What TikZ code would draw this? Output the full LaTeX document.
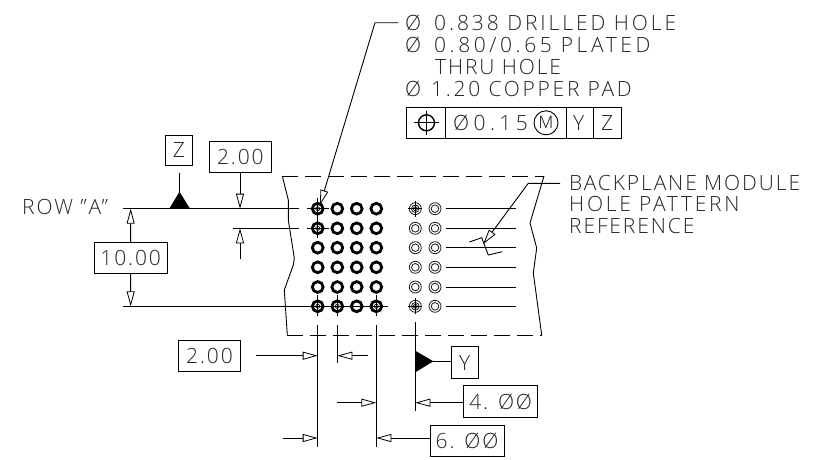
\documentclass[tikz,border=0pt]{standalone}
\usepackage{fontspec}
\setmainfont[UprightFont=* Light,LetterSpace=9]{Open Sans}
\usetikzlibrary{arrows.meta}
\tikzset{
 x=1pt,y=-1pt,
 cad/.style={font=\fontsize{21}{21}\selectfont,inner sep=0pt,anchor=west,text=black!85},
 boxed/.style={draw,line width=.9pt,inner sep=0pt,font=\fontsize{21}{21}\selectfont,text=black!85},
 ln/.style={line width=.9pt},
 dim/.style={line width=.9pt,-{Triangle[open,length=15pt,width=8pt,line width=.8pt]}},
 fat/.style={draw=black,line width=2.8pt},
 thin hole/.style={draw=black!85,line width=.85pt},
 cl/.style={line width=.7pt},
}
\newcommand{\bx}[6]{\node[boxed,minimum width=#3pt-#1pt,minimum height=#4pt-#2pt] (#5) at ({(#1+#3)/2},{(#2+#4)/2}) {#6};}
\newcommand{\lsp}[1]{\addfontfeature{LetterSpace=#1}}
\begin{document}
\begin{tikzpicture}
\useasboundingbox (0,0) rectangle (825,459);
% module outline
\draw[ln,dash pattern=on 16pt off 7pt] (282.3,176) -- (544,176);
\draw[ln,dash pattern=on 16pt off 7pt] (287.3,335) -- (541.7,335);
\draw[ln] (282.3,176) -- (288.3,200) -- (288.3,220) -- (294.3,258) -- (293.3,265) -- (284.3,290) -- (287.3,335);
\draw[ln] (544,176) -- (530,223) -- (536.7,248) -- (533.3,273) -- (541.7,335);
% holes
\foreach \x in {317.7,337.3,356.7,376.3}\foreach \y in {208.7,228.3,247.7,267.3,287,306.3}{
 \draw[fat] (\x,\y) circle (5.4pt);
}
\foreach \x in {415.3,435}\foreach \y in {208.7,228.3,247.7,267.3,287,306.3}{
 \draw[thin hole] (\x,\y) circle (6pt);
 \draw[thin hole] (\x,\y) circle (3.8pt);
}
% centre marks
\foreach \x/\y in {317.7/208.7,317.7/228.3,317.7/306.3,337.3/306.3,376.3/306.3}{
 \draw[cl] (\x-11,\y) -- (\x+11,\y);
 \draw[cl] (\x,\y-11) -- (\x,\y+10);
 \draw[cl] (\x,\y) circle (2pt);
}
\foreach \x/\y in {415.3/208.7,415.3/306.3}{
 \draw[cl] (\x-7,\y) -- (\x+7,\y);
 \draw[cl] (\x,\y-8) -- (\x,\y+8);
 \draw[cl] (\x,\y) circle (2pt);
}
% rows
\foreach \y [count=\i] in {208.7,228.3,247.7,267.3,287,306.3}{\coordinate (rs\i) at (446.3,\y); \coordinate (re\i) at (516.3,\y); \draw[ln] (rs\i) -- (re\i);}
\coordinate (a1) at (123,208.7); \coordinate (a2) at (299,208.7);
\coordinate (b1) at (232.7,228.3); \coordinate (b2) at (299,228.3);
\coordinate (c1) at (123,306.3); \coordinate (c2) at (299,306.3); \coordinate (c3) at (387.7,306.3);
\draw[ln] (a1)--(a2); \draw[ln] (b1)--(b2); \draw[ln] (c1)--(c2); \draw[cl] (c2)--(c3);
% notes
\node[cad] (n1a) at (405,22.7) {Ø}; \node[cad] (n1) at (434,22.7) {\lsp{14}0.838 DRILLED HOLE};
\node[cad] (n2a) at (405,45) {Ø}; \node[cad] (n2) at (434,45) {\lsp{17}0.80/0.65 PLATED};
\node[cad] (n3) at (435,67) {THRU HOLE};
\node[cad] (n4a) at (405,89) {Ø}; \node[cad] (n4) at (431,89) {\lsp{13}1.20 COPPER PAD};
\node[cad] (n5) at (569,183) {BACKPLANE MODULE};
\node[cad] (n6) at (569,204) {\lsp{13}HOLE PATTERN};
\node[cad] (n7) at (569,226) {REFERENCE};
\node[cad] (row) at (22,207) {ROW "A"};
% feature control frame
\node[draw,line width=.9pt,minimum width=214.5pt,minimum height=31pt,inner sep=0pt] (fcf) at (513.8,122.8) {};
\draw[ln] (445.7,107.3)--(445.7,138.3);
\draw[ln] (566.7,107.3)--(566.7,138.3);
\draw[ln] (593.3,107.3)--(593.3,138.3);
\draw[line width=1.4pt] (426.5,122.8) circle (8pt);
\draw[ln] (414,122.8)--(439,122.8) (426.5,110.7)--(426.5,135);
\node[cad] (tol) at (453,122.8) {\lsp{21}Ø0.15};
\node[cad] (ty) at (573,122.8) {Y};
\node[cad] (tz) at (601,122.8) {Z};
\node[draw,circle,line width=.9pt,minimum size=24pt,inner sep=0pt,font=\fontsize{17}{17}\selectfont\addfontfeature{LetterSpace=0}] (tm) at (546,122.8) {M};
% leaders
\coordinate (l1) at (398.3,22.7); \coordinate (l1k) at (375,22.7); \coordinate (l1t) at (320,205);
\draw[dim] (l1)--(l1k)--(l1t);
\coordinate (l2) at (560,183.3); \coordinate (l2k) at (528.3,183.3); \coordinate (l2t) at (483.3,244);
\draw[dim] (l2)--(l2k)--(l2t);
\draw[ln] (469.3,242)--(481.7,237.7)--(488.3,255)--(502.3,251.7);
% datum Z
\bx{165.3}{135}{192.7}{165.7}{bz}{Z}
\draw[ln] (179.5,172.7)--(179.5,195);
\fill (179.5,191.7)--(190,208.7)--(169.3,208.7)--cycle;
% 2.00 upper
\bx{209}{141}{271.7}{172}{b2up}{2.00}
\coordinate (d1t) at (240,208.7); \coordinate (d2t) at (240,228.3); \coordinate (d2e) at (240,259.3);
\draw[dim] (b2up.south -| d1t)--(d1t);
\draw[dim] (d2e)--(d2t);
% 10.00
\bx{94}{242.3}{167.3}{273.3}{b10}{10.00}
\coordinate (t1) at (130.7,208.7); \coordinate (t2) at (130.7,306.3);
\draw[dim] (b10.north)--(t1);
\draw[dim] (b10.south)--(t2);
% bottom ext lines
\draw[ln] (317.7,325)--(317.7,446.7);
\draw[ln] (337.3,325)--(337.3,363.3);
\draw[ln] (376.3,325)--(376.3,446.7);
\draw[ln] (415.3,321.7)--(415.3,410.7);
% 2.00 lower
\bx{178.3}{340}{240.7}{371.3}{b2lo}{2.00}
\coordinate (e1) at (256,355.7); \coordinate (e1t) at (317.7,355.7);
\coordinate (e2) at (368.3,355.7); \coordinate (e2t) at (337.3,355.7);
\draw[dim] (e1)--(e1t); \draw[dim] (e2)--(e2t);
\coordinate (e3) at (337,402.7); \coordinate (e3t) at (376.3,402.7);
\coordinate (e4) at (282.7,438); \coordinate (e4t) at (317.7,438);
\draw[dim] (e3)--(e3t); \draw[dim] (e4)--(e4t);
% datum Y
\bx{451}{346.7}{478.3}{378.3}{by}{Y}
\fill (415.3,350.7)--(433.3,361.3)--(415.3,372.3)--cycle;
\coordinate (yapex) at (433,361.3);
\draw[ln] (yapex)--(yapex -| by.west);
% 4.00
\bx{463.7}{385.7}{537.7}{417.3}{b4}{4. ØØ}
\coordinate (f1t) at (415.3,402.7);
\draw[dim] (b4.west |- f1t)--(f1t);
% 6.00
\bx{430}{425}{504}{456}{b6}{6. ØØ}
\coordinate (g1t) at (376.3,438);
\draw[dim] (b6.west |- g1t)--(g1t);
\end{tikzpicture}
\end{document}
